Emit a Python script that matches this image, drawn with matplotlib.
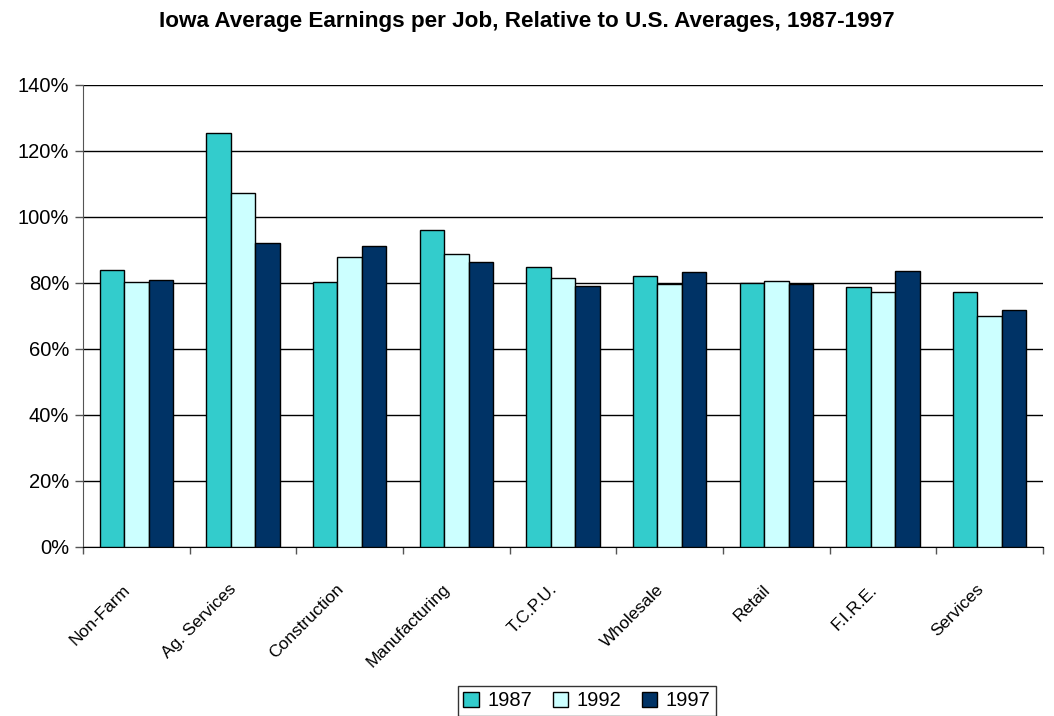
import matplotlib
matplotlib.use("Agg")
import matplotlib.pyplot as plt
import matplotlib.transforms as mtransforms
import numpy as np
from matplotlib.ticker import FuncFormatter, MultipleLocator

categories = ["Non-Farm", "Ag. Services", "Construction", "Manufacturing", "T.C.P.U.",
              "Wholesale", "Retail", "F.I.R.E.", "Services"]
years = ["1987", "1992", "1997"]
v1987 = [84.0, 125.4, 80.3, 96.2, 84.9, 82.0, 80.0, 78.7, 77.2]
v1992 = [80.3, 107.4, 87.8, 88.8, 81.4, 79.6, 80.5, 77.4, 70.1]
v1997 = [81.0, 92.0, 91.2, 86.5, 79.2, 83.4, 79.8, 83.6, 71.7]
colors = ["#33CCCC", "#CCFFFF", "#003366"]

plt.rcParams['font.family'] = ['Liberation Sans', 'DejaVu Sans']

fig = plt.figure(figsize=(10.54, 7.16), dpi=100)
ax = fig.add_axes([83/1054, 1-547/716, (1043-83)/1054, (547-85)/716])

x = np.arange(len(categories))
w = 0.229
for i, (vals, c, lab) in enumerate(zip([v1987, v1992, v1997], colors, years)):
    ax.bar(x + (i-1)*w, vals, width=w, color=c, edgecolor="black", linewidth=1.0,
           label=lab, zorder=3)

ax.set_xlim(-0.5, len(categories)-0.5)
ax.set_ylim(0, 140)
ax.yaxis.set_major_locator(MultipleLocator(20))
ax.yaxis.set_major_formatter(FuncFormatter(lambda v, p: f"{int(round(v))}%"))
ax.grid(axis='y', color='black', linewidth=1.0, zorder=0)
for s in ['top', 'right']:
    ax.spines[s].set_visible(False)
ax.spines['left'].set_color('#555555')
ax.spines['bottom'].set_color('black')
ax.tick_params(axis='y', labelsize=14.5, length=6, width=1, colors='#555555', labelcolor='black', pad=4)

ax.set_xticks(np.arange(len(categories)+1) - 0.5)
ax.set_xticklabels([])
ax.tick_params(axis='x', length=5, width=1, colors='#555555')
ax.set_xticks(x, minor=True)
ax.set_xticklabels(categories, minor=True, rotation=45, ha='right', va='top',
                   rotation_mode='anchor', fontsize=12.5)
ax.tick_params(axis='x', which='minor', length=0, pad=25)
offset = mtransforms.ScaledTranslation(-14/100, 0, fig.dpi_scale_trans)
for lbl in ax.get_xticklabels(minor=True):
    lbl.set_transform(lbl.get_transform() + offset)

fig.text(0.5, 1-21/716, "Iowa Average Earnings per Job, Relative to U.S. Averages, 1987-1997",
         ha='center', va='center', fontsize=16.2, fontweight='bold')

leg = fig.legend(loc='center', bbox_to_anchor=(587/1054, 1-701/716), ncol=3, fontsize=14.5,
                 frameon=True, fancybox=False, edgecolor='black', handlelength=0.75,
                 handleheight=0.75, handletextpad=0.45, columnspacing=1.0, borderpad=0.25,
                 borderaxespad=0)
leg.get_frame().set_linewidth(1.0)

fig.savefig("out.png", dpi=100)
